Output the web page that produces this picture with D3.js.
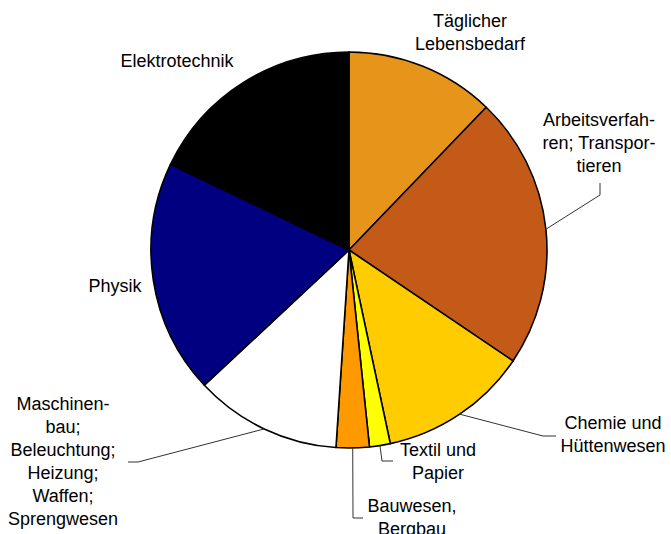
<!DOCTYPE html>
<html>
<head>
<meta charset="utf-8">
<script src="https://cdn.jsdelivr.net/npm/d3@7/dist/d3.min.js"></script>
<style>
html,body{margin:0;padding:0;background:#fff;}
svg{display:block;}
text{font-family:"Liberation Sans",Arial,sans-serif;font-size:18px;fill:#000;}
</style>
</head>
<body>
<svg id="chart" width="671" height="534"></svg>
<script>
// Data (shares in percent, clockwise from 12 o'clock)
const categories = ["Täglicher Lebensbedarf","Arbeitsverfahren; Transportieren","Chemie und Hüttenwesen","Textil und Papier","Bauwesen, Bergbau","Maschinenbau; Beleuchtung; Heizung; Waffen; Sprengwesen","Physik","Elektrotechnik"];
const values = [12.2, 22.3, 12.2, 1.7, 2.7, 12.0, 19.1, 17.9];
const colors = ["#E6951A","#C45A18","#FFCC00","#FFFF00","#FF9900","#FFFFFF","#000080","#000000"];
const labelLines = [
  ["Täglicher","Lebensbedarf"],
  ["Arbeitsverfah-","ren; Transpor-","tieren"],
  ["Chemie und","Hüttenwesen"],
  ["Textil und","Papier"],
  ["Bauwesen,","Bergbau"],
  ["Maschinen-","bau;","Beleuchtung;","Heizung;","Waffen;","Sprengwesen"],
  ["Physik"],
  ["Elektrotechnik"]
];
// label layout: center x, first baseline y
const labelPos = [[470,27],[599,126],[613,429],[438,456],[412,512],[63,410],[115,292],[177,67]];
// leader elbows (null = no leader)
const leaders = [null,[[600,195],[600,183]],[[543,436],[556,436]],[[382,461],[393,461]],[[353,518],[363,518]],[[138,462],[128,462]],null,null];

const cx = 349, cy = 250, r = 198, lineH = 23;
const svg = d3.select("#chart");
const g = svg.append("g").attr("transform",`translate(${cx},${cy})`);
const pie = d3.pie().sort(null).value(d=>d).startAngle(0).endAngle(2*Math.PI);
const arcs = pie(values);
const arc = d3.arc().innerRadius(0).outerRadius(r);

g.selectAll("path.slice").data(arcs).enter().append("path")
  .attr("class","slice")
  .attr("d",arc)
  .attr("fill",(d,i)=>colors[i])
  .attr("stroke","#000")
  .attr("stroke-width",1.6)
  .attr("stroke-linejoin","round");

// leader lines
arcs.forEach((d,i)=>{
  if(!leaders[i]) return;
  const a = (d.startAngle+d.endAngle)/2;
  const sx = cx + r*Math.sin(a), sy = cy - r*Math.cos(a);
  const pts = [[sx,sy]].concat(leaders[i]);
  svg.append("path").attr("d",d3.line()(pts))
    .attr("fill","none").attr("stroke","#333").attr("stroke-width",1);
});

// labels
labelLines.forEach((lines,i)=>{
  const t = svg.append("text").attr("text-anchor","middle");
  lines.forEach((s,j)=>{
    t.append("tspan").attr("x",labelPos[i][0]).attr("y",labelPos[i][1]+j*lineH).text(s);
  });
});
</script>
</body>
</html>
